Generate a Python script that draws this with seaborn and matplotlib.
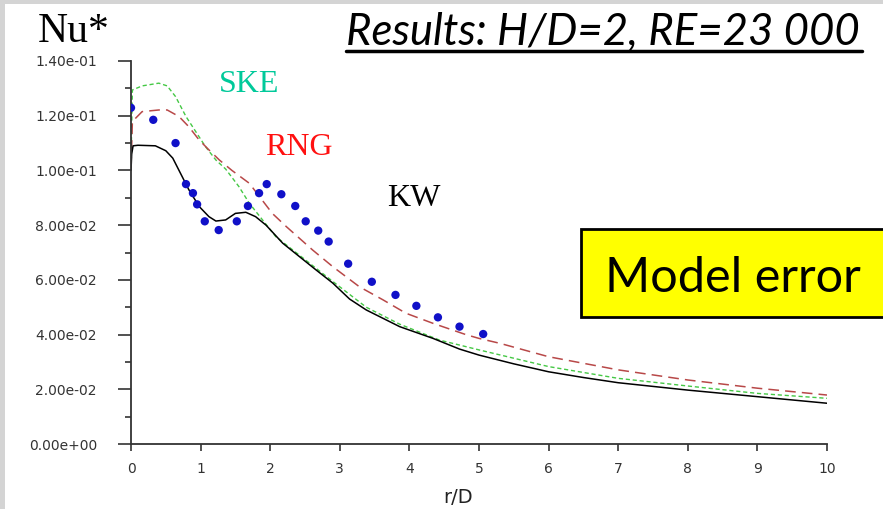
import pandas as pd
import matplotlib.pyplot as plt
import seaborn as sns
from matplotlib.patches import Rectangle
from matplotlib.lines import Line2D

# data
kw_x = [0, 0.01, 0.03, 0.1, 0.35, 0.5, 0.6, 0.69, 0.83, 0.98, 1.12, 1.22, 1.36, 1.5, 1.65,
        1.79, 1.94, 2.18, 2.42, 2.66, 2.9, 3.14, 3.38, 3.86, 4.34, 4.72, 5.0, 5.5, 6.0,
        6.5, 7.0, 8.0, 9.0, 10.0]
kw_y = [0.100, 0.106, 0.109, 0.1092, 0.1090, 0.1072, 0.1045, 0.100, 0.093, 0.0868, 0.0831,
        0.0815, 0.0819, 0.0843, 0.0847, 0.0831, 0.0800, 0.0734, 0.0685, 0.0636, 0.0588,
        0.0530, 0.0490, 0.0429, 0.0386, 0.0347, 0.0325, 0.0293, 0.0264, 0.0243, 0.0224,
        0.0197, 0.0173, 0.0149]

ske_x = [0, 0.02, 0.16, 0.4, 0.52, 0.64, 0.79, 0.93, 1.07, 1.22, 1.36, 1.55, 1.7, 1.89,
         2.08, 2.42, 2.9, 3.38, 3.86, 4.43, 5.0, 6.0, 7.0, 8.0, 9.0, 10.0]
ske_y = [0.103, 0.1294, 0.1309, 0.1319, 0.1309, 0.127, 0.1197, 0.1142, 0.1087, 0.1038,
         0.1005, 0.0941, 0.088, 0.0819, 0.0758, 0.0690, 0.0594, 0.0500, 0.0438, 0.0380,
         0.0344, 0.0283, 0.0240, 0.0212, 0.0185, 0.0167]

rng_x = [0, 0.02, 0.16, 0.4, 0.52, 0.69, 0.83, 0.98, 1.12, 1.27, 1.45, 1.7, 2.03, 2.23,
         2.61, 2.9, 3.28, 3.62, 3.95, 4.34, 4.81, 5.0, 5.3, 6.0, 7.0, 8.0, 9.0, 10.0]
rng_y = [0.101, 0.1179, 0.1215, 0.1221, 0.1221, 0.1197, 0.116, 0.1111, 0.1075, 0.1038,
         0.1000, 0.0953, 0.0843, 0.0795, 0.0709, 0.0648, 0.0575, 0.0527, 0.0478, 0.0441,
         0.0400, 0.0386, 0.0368, 0.0319, 0.0271, 0.0234, 0.0204, 0.0179]

exp_x = [0.0, 0.32, 0.64, 0.79, 0.89, 0.95, 1.06, 1.26, 1.52, 1.68, 1.84, 1.95, 2.16, 2.36,
         2.51, 2.69, 2.84, 3.12, 3.46, 3.80, 4.10, 4.41, 4.72, 5.06]
exp_y = [0.1229, 0.1185, 0.110, 0.095, 0.0917, 0.0876, 0.0814, 0.0782, 0.0814, 0.087,
         0.0917, 0.095, 0.0913, 0.087, 0.0814, 0.078, 0.074, 0.0659, 0.0593, 0.0545,
         0.0505, 0.0463, 0.0429, 0.0402]

y_ticks = [0, 0.02, 0.04, 0.06, 0.08, 0.10, 0.12, 0.14]
y_labels = ["0.00e+00", "2.00e-02", "4.00e-02", "6.00e-02", "8.00e-02",
            "1.00e-01", "1.20e-01", "1.40e-01"]
x_ticks = list(range(0, 11))

kw = pd.DataFrame({"r/D": kw_x, "Nu": kw_y})
ske = pd.DataFrame({"r/D": ske_x, "Nu": ske_y})
rng = pd.DataFrame({"r/D": rng_x, "Nu": rng_y})
exp = pd.DataFrame({"r/D": exp_x, "Nu": exp_y})

sns.set_style("ticks")
plt.rcParams["font.family"] = ["DejaVu Sans"]

fig = plt.figure(figsize=(8.83, 5.09), dpi=100)
fig.patch.set_facecolor("white")
# grey slide border on the left and top
fig.patches.append(Rectangle((0, 0), 5 / 883, 1, transform=fig.transFigure,
                             facecolor="#d4d4d4", edgecolor="none", zorder=0))
fig.patches.append(Rectangle((0, 1 - 4 / 509), 1, 4 / 509, transform=fig.transFigure,
                             facecolor="#d4d4d4", edgecolor="none", zorder=0))

ax = fig.add_axes([131 / 883, 1 - 444 / 509, (827 - 131) / 883, (444 - 61) / 509])

sns.lineplot(data=ske, x="r/D", y="Nu", ax=ax, sort=False, estimator=None,
             color="#45c845", lw=1.0, linestyle=(0, (3, 2)))
sns.lineplot(data=rng, x="r/D", y="Nu", ax=ax, sort=False, estimator=None,
             color="#b84848", lw=1.1, linestyle=(0, (7, 4)))
sns.lineplot(data=kw, x="r/D", y="Nu", ax=ax, sort=False, estimator=None,
             color="black", lw=1.1)
sns.scatterplot(data=exp, x="r/D", y="Nu", ax=ax, color="#1010c8", s=36,
                edgecolor="none", zorder=5)

ax.set_xlim(0, 10)
ax.set_ylim(0, 0.14)
ax.set_xticks(x_ticks)
ax.set_xticklabels([str(t) for t in x_ticks])
ax.set_yticks(y_ticks)
ax.set_yticklabels(y_labels)
ax.set_yticks([0.01, 0.03, 0.05, 0.07, 0.09, 0.11, 0.13], minor=True)
sns.despine(ax=ax)
for s in ["left", "bottom"]:
    ax.spines[s].set_color("#333333")
    ax.spines[s].set_linewidth(1.3)
ax.tick_params(axis="y", which="major", length=9.5, width=1.2, color="#333333",
               pad=15, labelsize=10, labelcolor="#333333")
ax.tick_params(axis="y", which="minor", length=4.5, width=1.2, color="#333333")
ax.tick_params(axis="x", which="major", length=5, width=1.2, color="#333333",
               pad=8, labelsize=10, labelcolor="#333333")
ax.set_xlabel("r/D", fontsize=14, color="#222222")
ax.set_ylabel("")
ax.xaxis.set_label_coords(0.47, -0.115)

# annotations
fig.text(38 / 883, 1 - 42 / 509, "Nu*", family="Liberation Serif", fontsize=30,
         color="black")
fig.text(219 / 883, 1 - 92 / 509, "SKE", family="Liberation Serif", fontsize=23,
         color="#00c99a")
fig.text(265 / 883, 1 - 155 / 509, "RNG", family="Liberation Serif", fontsize=23,
         color="#ff1010")
fig.text(387 / 883, 1 - 206 / 509, "KW", family="Liberation Serif", fontsize=23,
         color="black")

fig.text(346 / 883, 1 - 45 / 509, "Results: H/D=2, RE=23 000", family="Lato",
         style="italic", fontsize=31.5, color="black")
fig.add_artist(Line2D([346 / 883, 862 / 883], [1 - 51 / 509, 1 - 51 / 509],
                      transform=fig.transFigure, color="black", lw=2.5))

fig.patches.append(Rectangle((581 / 883, 1 - 317 / 509), 320 / 883, 88 / 509,
                             transform=fig.transFigure, facecolor="#ffff00",
                             edgecolor="black", lw=2, zorder=3))
fig.text(605 / 883, 1 - 292 / 509, "Model error", family="Lato", fontsize=35,
         color="black", zorder=4)

fig.savefig("out.png", dpi=100)
